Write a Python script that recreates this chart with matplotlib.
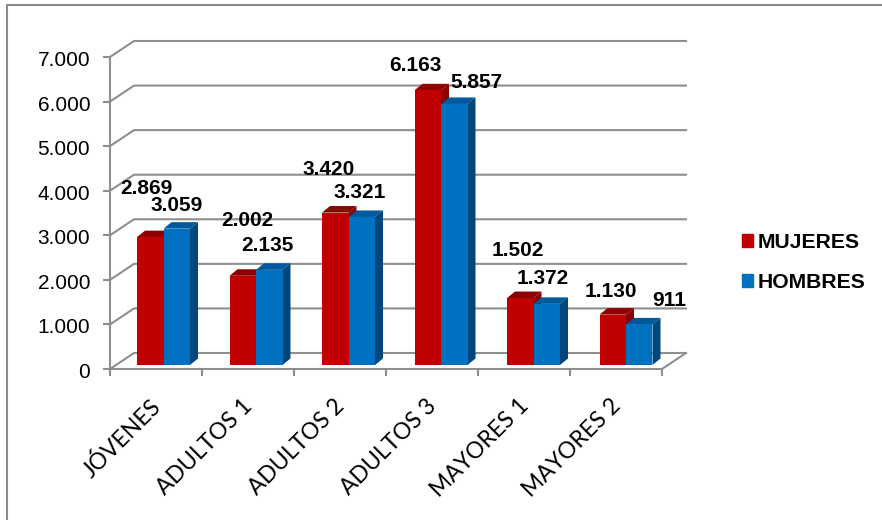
import matplotlib
matplotlib.use("Agg")
import matplotlib.pyplot as plt
from matplotlib.lines import Line2D
from matplotlib.patches import Patch
from matplotlib.transforms import ScaledTranslation

categories = ["JÓVENES", "ADULTOS 1", "ADULTOS 2", "ADULTOS 3", "MAYORES 1", "MAYORES 2"]
mujeres = [2869, 2002, 3420, 6163, 1502, 1130]
hombres = [3059, 2135, 3321, 5857, 1372, 911]
y_ticks = [0, 1000, 2000, 3000, 4000, 5000, 6000, 7000]

label_offsets_m = [(-4, 49), (5, 55), (-7, 43), (-12, 25), (-2, 48), (-2, 23)]
label_offsets_h = [(0, 23), (-2, 24), (-2, 24), (22, 21), (-4, 25), (30, 24)]

W, H = 882, 520
L, R, T, B = 110, 662, 57, 369
GREY = "#8E8E8E"
plt.rcParams["font.family"] = ["Liberation Sans", "DejaVu Sans"]

fig = plt.figure(figsize=(W / 100, H / 100), dpi=100)
ax = fig.add_axes([L / W, (H - B) / H, (R - L) / W, (B - T) / H])
ax.set_xlim(0, len(categories))
ax.set_ylim(0, y_ticks[-1])

xu = (R - L) / len(categories)   # px per category
yu = (B - T) / y_ticks[-1]       # px per value unit
wall_dx, wall_dy = 24 / xu, 16 / yu
depth_dx, depth_dy = 8 / xu, 6.5 / yu
base = 4 / yu
bar_w = 26.5 / xu
bar_start = 27 / xu
group_step = 92.5 / xu

# walls
for v in y_ticks:
    ax.plot([0, wall_dx, len(categories) + wall_dx], [v, v + wall_dy, v + wall_dy],
            color=GREY, lw=1.5, clip_on=False, zorder=1, solid_joinstyle="miter")
ax.plot([len(categories), len(categories) + wall_dx], [0, wall_dy], color=GREY, lw=1.5,
        clip_on=False, zorder=1)


def bars(offset, values, front, top, side, label_offsets):
    for i, v in enumerate(values):
        x0 = i * group_step + bar_start + offset
        x1 = x0 + bar_w
        h = base + v
        ax.fill([x0, x1, x1 + depth_dx, x0 + depth_dx], [h, h, h + depth_dy, h + depth_dy],
                color=top, lw=0, clip_on=False, zorder=3)
        ax.fill([x1, x1 + depth_dx, x1 + depth_dx, x1], [base, base + depth_dy, h + depth_dy, h],
                color=side, lw=0, clip_on=False, zorder=3)
        ax.bar(x0, v, width=bar_w, bottom=base, align="edge", color=front, lw=0,
               clip_on=False, zorder=4)
        ax.annotate(f"{v:,}".replace(",", "."), xy=(x0 + bar_w / 2, h),
                    xytext=label_offsets[i], textcoords="offset pixels",
                    ha="center", va="center", fontsize=15, fontweight="bold",
                    color="black", zorder=6, annotation_clip=False)


bars(0, mujeres, "#C00000", "#8C0000", "#8C0000", label_offsets_m)
bars(bar_w, hombres, "#0070C0", "#00599C", "#00477C", label_offsets_h)

# axes
for s in ("top", "right"):
    ax.spines[s].set_visible(False)
for s in ("left", "bottom"):
    ax.spines[s].set_color(GREY)
    ax.spines[s].set_linewidth(1.5)
    ax.spines[s].set_zorder(2)
ax.set_yticks(y_ticks)
ax.set_yticklabels([f"{v:,}".replace(",", ".") for v in y_ticks], fontsize=15, color="black")
ax.tick_params(axis="y", length=5, width=1.5, color=GREY, pad=9.3)
shift_y = ScaledTranslation(0, -1.5 / 100, fig.dpi_scale_trans)
for t in ax.get_yticklabels():
    t.set_transform(t.get_transform() + shift_y)
ax.set_xticks(range(len(categories) + 1))
ax.set_xticklabels([])
ax.tick_params(axis="x", which="major", length=5, width=1.5, color=GREY)
ax.set_xticks([i + 0.5 for i in range(len(categories))], minor=True)
ax.set_xticklabels(categories, minor=True, rotation=45, ha="right", rotation_mode="anchor",
                   fontsize=16.5, family=["Lato", "DejaVu Sans"], color="black")
ax.tick_params(axis="x", which="minor", length=0, pad=19)
shift_x = ScaledTranslation(-6 / 100, 0, fig.dpi_scale_trans)
for t in ax.get_xticklabels(minor=True):
    t.set_transform(t.get_transform() + shift_x)

# legend
handles = [Patch(color="#C00000", label="MUJERES"), Patch(color="#0070C0", label="HOMBRES")]
leg = fig.legend(handles=handles, loc="center left", bbox_to_anchor=(742 / W, 1 - 262.5 / H),
                 frameon=False, handlelength=0.53, handleheight=0.53, handletextpad=0.22,
                 labelspacing=1.0, borderpad=0, borderaxespad=0,
                 prop={"size": 15.2, "weight": "bold"})

# outer frame
fig.add_artist(Line2D([7 / W, 7 / W, 1], [0, 1 - 5 / H, 1 - 5 / H], color="#8A8A8A", lw=1.5))

fig.savefig("out.png", dpi=100, facecolor="white")
